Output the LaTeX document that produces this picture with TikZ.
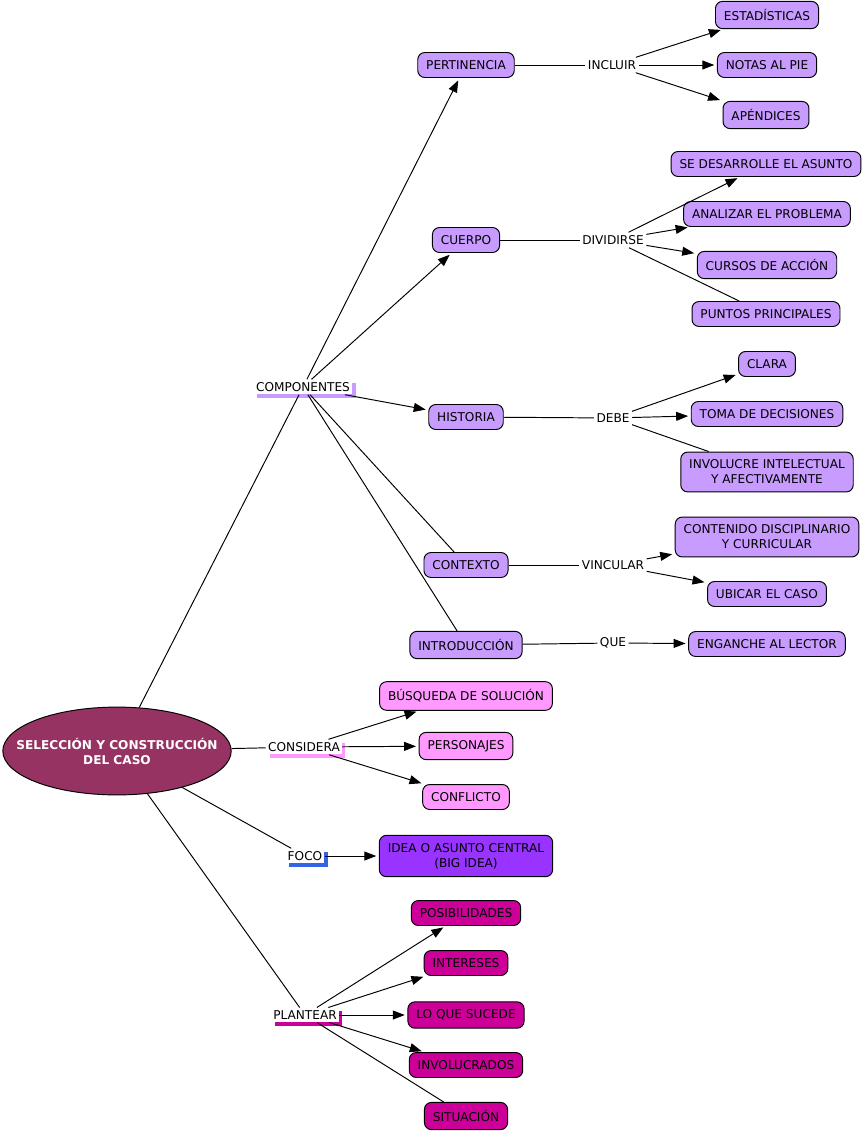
\documentclass[tikz,border=0pt]{standalone}
\usepackage{fontspec}
\setmainfont{DejaVu Sans}
\usetikzlibrary{arrows.meta,shapes.geometric,shadows}
\definecolor{lila}{RGB}{200,155,255}
\definecolor{rosa}{RGB}{255,153,255}
\definecolor{violeta}{RGB}{153,51,255}
\definecolor{fucsia}{RGB}{204,0,153}
\definecolor{vino}{RGB}{150,51,98}
\definecolor{azul}{RGB}{51,102,230}
\begin{document}
\begin{tikzpicture}[x=0.02cm, y=-0.02cm, line width=0.55pt,
    font=\fontsize{6.9}{8.5}\selectfont,
    concepto/.style={draw, rounded corners=4pt, fill=#1, minimum height=14pt,
        inner xsep=4.8pt, inner ysep=4.5pt, align=center},
    enlace/.style={inner xsep=1.2pt, inner ysep=1.5pt},
    sombra/.style={enlace, fill=white,
        drop shadow={shadow xshift=2pt, shadow yshift=-2pt, fill=#1, opacity=1}},
    raiz/.style={ellipse, draw, fill=vino, text=white,
        font=\fontsize{6.9}{8.5}\selectfont\bfseries, minimum width=130pt,
        minimum height=50pt, inner xsep=-12pt, inner ysep=0pt, align=center},
    flecha/.style={-{Triangle[length=6.8pt,width=5.1pt]}, shorten >=1.5pt}]
    \useasboundingbox (0,0) rectangle (864,1132);

    % raiz
    \node[raiz] (caso) at (117,751) {SELECCIÓN Y CONSTRUCCIÓN\\DEL CASO};

    % componentes
    \node[sombra=lila] (componentes) at (303,387) {COMPONENTES};
    \node[concepto=lila] (pertinencia) at (466,65) {PERTINENCIA};
    \node[concepto=lila] (cuerpo) at (466,240) {CUERPO};
    \node[concepto=lila] (historia) at (466,417) {HISTORIA};
    \node[concepto=lila] (contexto) at (466,565) {CONTEXTO};
    \node[concepto=lila] (introduccion) at (466,645) {INTRODUCCIÓN};

    \node[enlace] (incluir) at (612,65) {INCLUIR};
    \node[concepto=lila] (estadisticas) at (767,15) {ESTADÍSTICAS};
    \node[concepto=lila] (notas) at (767,65) {NOTAS AL PIE};
    \node[concepto=lila] (apendices) at (766,115) {APÉNDICES};

    \node[enlace] (dividirse) at (613,240) {DIVIDIRSE};
    \node[concepto=lila] (desarrolle) at (766,164) {SE DESARROLLE EL ASUNTO};
    \node[concepto=lila] (analizar) at (767,214) {ANALIZAR EL PROBLEMA};
    \node[concepto=lila] (cursos) at (767,265) {CURSOS DE ACCIÓN};
    \node[concepto=lila] (puntos) at (766,314) {PUNTOS PRINCIPALES};

    \node[enlace] (debe) at (613,418) {DEBE};
    \node[concepto=lila] (clara) at (767,364) {CLARA};
    \node[concepto=lila] (toma) at (767,414) {TOMA DE DECISIONES};
    \node[concepto=lila] (involucre) at (767,472) {INVOLUCRE INTELECTUAL\\Y AFECTIVAMENTE};

    \node[enlace] (vincular) at (613,565) {VINCULAR};
    \node[concepto=lila] (contenido) at (767,537) {CONTENIDO DISCIPLINARIO\\Y CURRICULAR};
    \node[concepto=lila] (ubicar) at (767,594) {UBICAR EL CASO};

    \node[enlace] (que) at (613,643) {QUE};
    \node[concepto=lila] (enganche) at (767,644) {ENGANCHE AL LECTOR};

    % considera
    \node[sombra=rosa] (considera) at (304,747) {CONSIDERA};
    \node[concepto=rosa] (busqueda) at (466,696) {BÚSQUEDA DE SOLUCIÓN};
    \node[concepto=rosa] (personajes) at (466,746) {PERSONAJES};
    \node[concepto=rosa] (conflicto) at (466,797) {CONFLICTO};

    % foco
    \node[sombra=azul] (foco) at (305,856) {FOCO};
    \node[concepto=violeta] (idea) at (466,856) {IDEA O ASUNTO CENTRAL\\(BIG IDEA)};

    % plantear
    \node[sombra=fucsia] (plantear) at (305,1015) {PLANTEAR};
    \node[concepto=fucsia] (posibilidades) at (466,913) {POSIBILIDADES};
    \node[concepto=fucsia] (intereses) at (466,963) {INTERESES};
    \node[concepto=fucsia] (sucede) at (466,1015) {LO QUE SUCEDE};
    \node[concepto=fucsia] (involucrados) at (466,1065) {INVOLUCRADOS};
    \node[concepto=fucsia] (situacion) at (466,1116) {SITUACIÓN};

    % conectores
    \draw (caso) -- (componentes);
    \draw[flecha] (componentes) -- (pertinencia);
    \draw[flecha] (componentes) -- (cuerpo);
    \draw[flecha] (componentes) -- (historia);
    \draw (componentes) -- (contexto);
    \draw (componentes) -- (introduccion);

    \draw (pertinencia) -- (incluir);
    \draw[flecha] (incluir) -- (estadisticas);
    \draw[flecha] (incluir) -- (notas);
    \draw[flecha] (incluir) -- (apendices);

    \draw (cuerpo) -- (dividirse);
    \draw[flecha] (dividirse) -- (desarrolle);
    \draw[flecha] (dividirse) -- (analizar);
    \draw[flecha] (dividirse) -- (cursos);
    \draw (dividirse) -- (puntos);

    \draw (historia) -- (debe);
    \draw[flecha] (debe) -- (clara);
    \draw[flecha] (debe) -- (toma);
    \draw (debe) -- (involucre);

    \draw (contexto) -- (vincular);
    \draw[flecha] (vincular) -- (contenido);
    \draw[flecha] (vincular) -- (ubicar);

    \draw (introduccion) -- (que);
    \draw[flecha] (que) -- (enganche);

    \draw (caso) -- (considera);
    \draw[flecha] (considera) -- (busqueda);
    \draw[flecha] (considera) -- (personajes);
    \draw[flecha] (considera) -- (conflicto);

    \draw (caso) -- (foco);
    \draw[flecha] (foco) -- (idea);

    \draw (caso) -- (plantear);
    \draw[flecha] (plantear) -- (posibilidades);
    \draw[flecha] (plantear) -- (intereses);
    \draw[flecha] (plantear) -- (sucede);
    \draw[flecha] (plantear) -- (involucrados);
    \draw (plantear) -- (situacion);
\end{tikzpicture}
\end{document}
